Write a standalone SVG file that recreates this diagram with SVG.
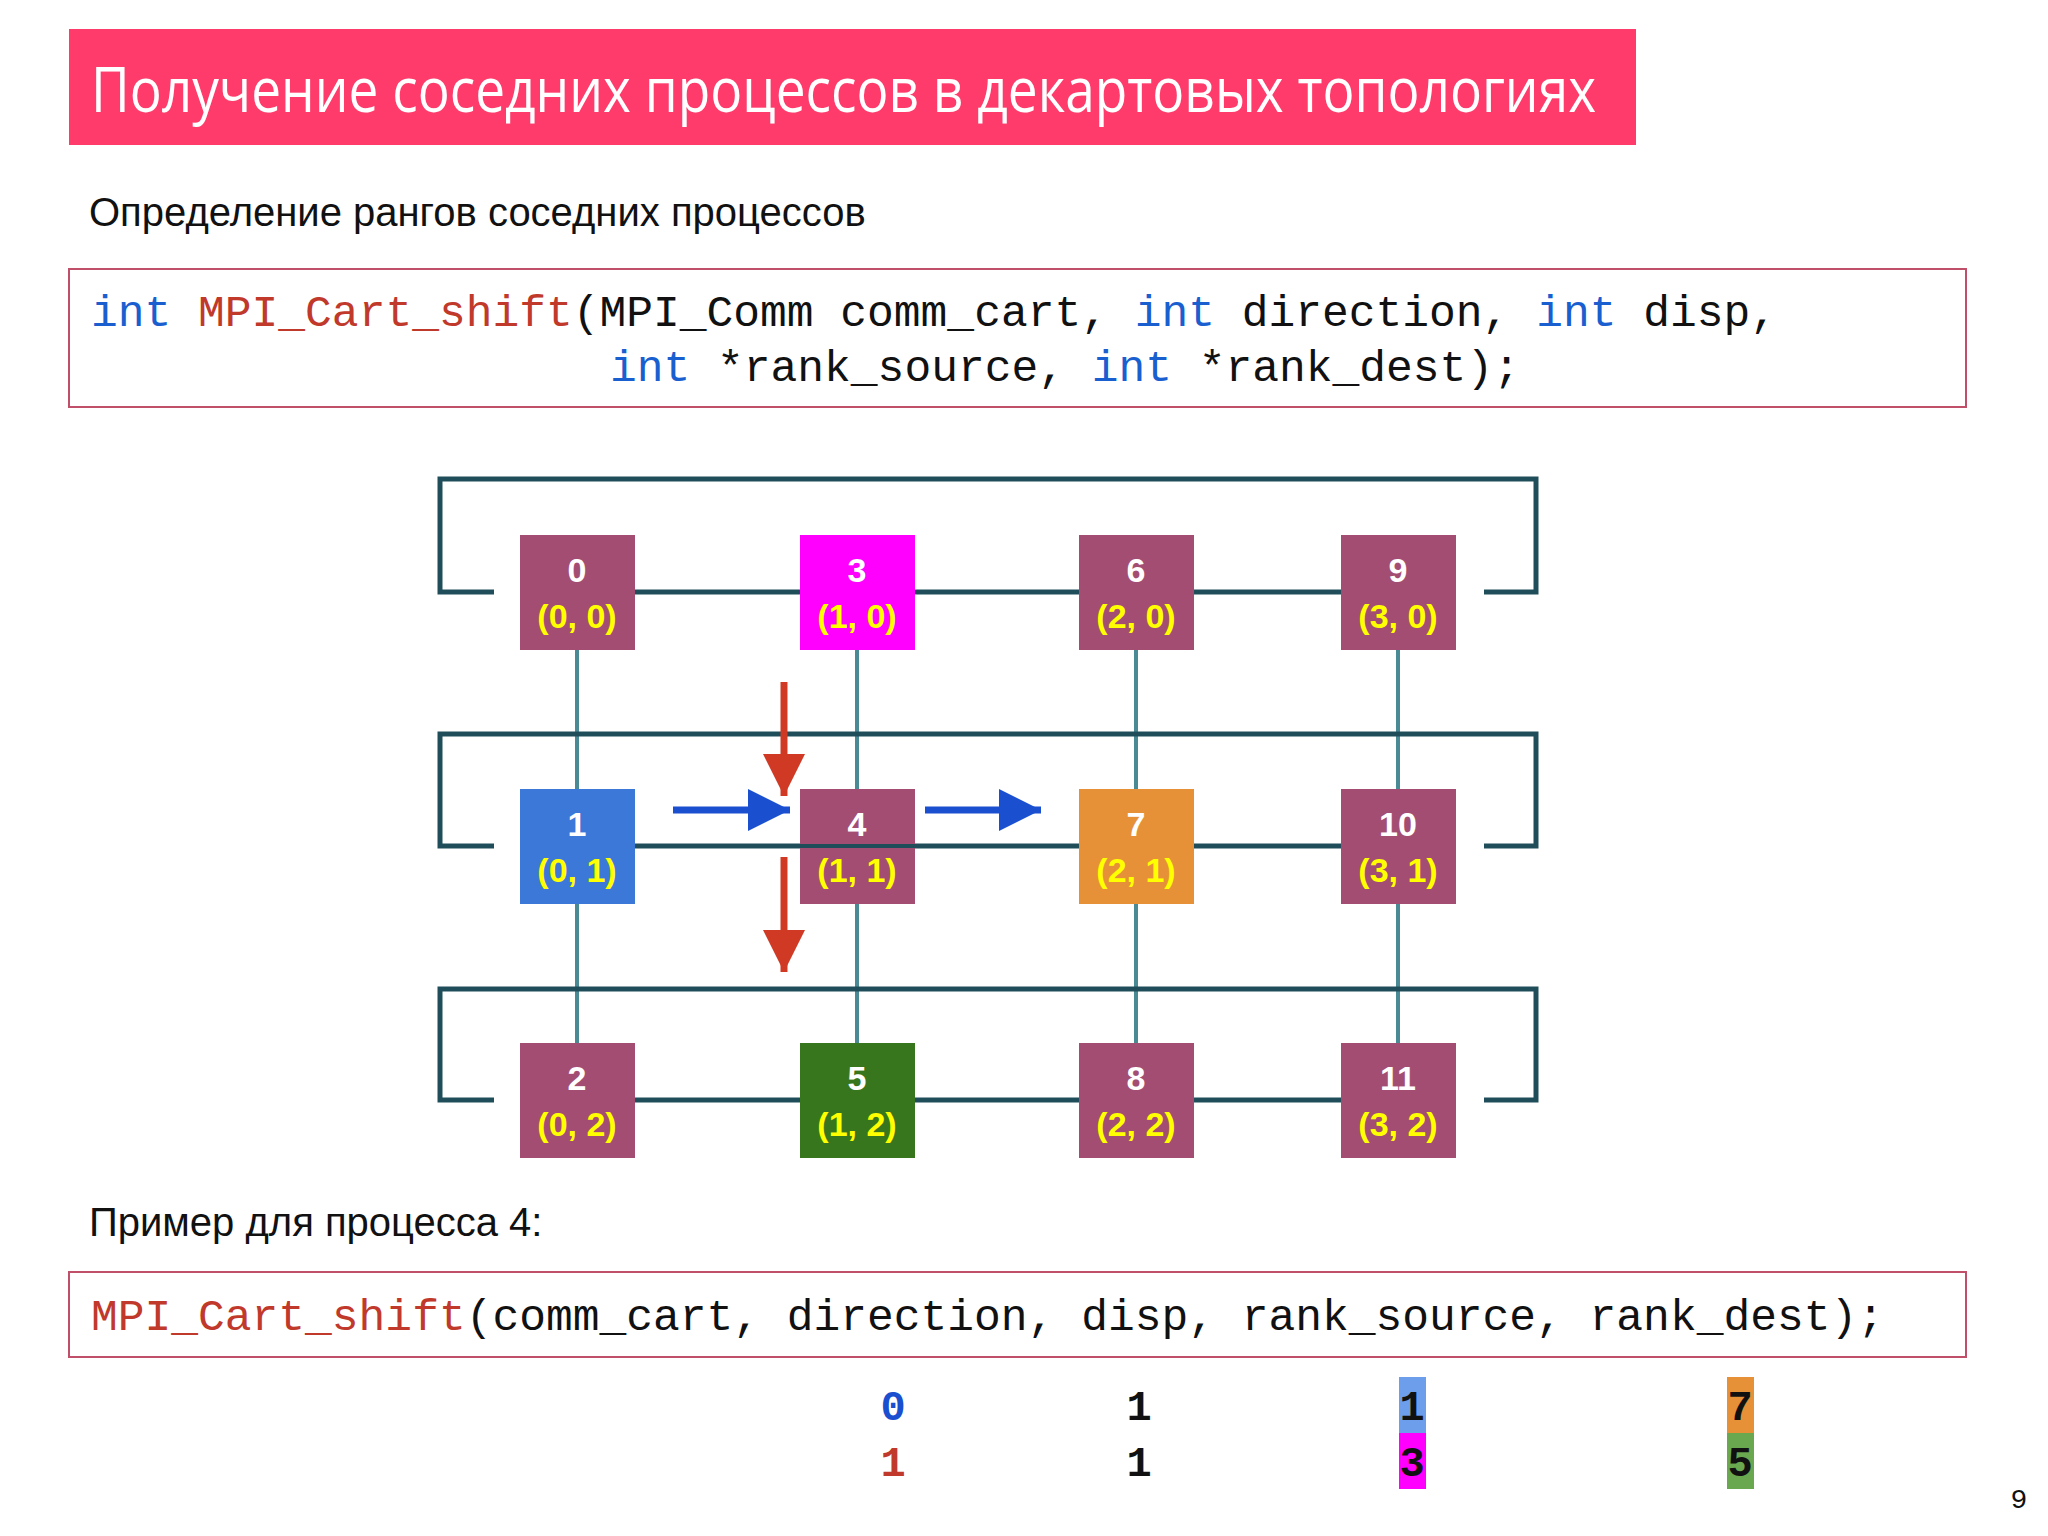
<svg xmlns="http://www.w3.org/2000/svg" width="2048" height="1536" viewBox="0 0 2048 1536">
<style>
.mono{font-family:"Liberation Mono","DejaVu Sans Mono",monospace;font-size:44.6px}
.kw{fill:#1a5fd0}.fn{fill:#c0392b}.tx{fill:#111}
.box{fill:#fff;stroke:#c0506a;stroke-width:2}
.n{fill:#a34d73}
.num{font-family:"Liberation Sans",Arial,sans-serif;font-weight:bold;font-size:34px;fill:#fff;text-anchor:middle}
.crd{font-family:"Liberation Sans",Arial,sans-serif;font-weight:bold;font-size:34px;fill:#ffff00;text-anchor:middle}
.wrap{fill:none;stroke:#1f4e5a;stroke-width:5}
.vl{stroke:#4a8a95;stroke-width:4}
.val{font-family:"Liberation Mono","DejaVu Sans Mono",monospace;font-weight:bold;font-size:42px;text-anchor:middle}
</style>
<defs>
<marker id="ab" viewBox="0 0 10 10" refX="10" refY="5" markerWidth="6" markerHeight="6" markerUnits="strokeWidth" orient="auto"><path d="M0,0L10,5L0,10z" fill="#1a4fd0"/></marker>
<marker id="ar" viewBox="0 0 10 10" refX="10" refY="5" markerWidth="6" markerHeight="6" markerUnits="strokeWidth" orient="auto"><path d="M0,0L10,5L0,10z" fill="#d03a25"/></marker>
</defs>
<rect width="2048" height="1536" fill="#fff"/>
<rect x="69" y="29" width="1567" height="116" fill="#ff3b6b"/>
<text x="91" y="112" font-family="Open Sans,Noto Sans,sans-serif" font-size="62" fill="#fff" textLength="1505" lengthAdjust="spacingAndGlyphs">Получение соседних процессов в декартовых топологиях</text>
<text x="89" y="226" font-family="Liberation Sans,Arial,sans-serif" font-size="40" fill="#111">Определение рангов соседних процессов</text>
<rect class="box" x="69" y="269" width="1897" height="138"/>
<text class="mono" x="91" y="326"><tspan class="kw">int</tspan><tspan class="tx"> </tspan><tspan class="fn">MPI_Cart_shift</tspan><tspan class="tx">(MPI_Comm comm_cart, </tspan><tspan class="kw">int</tspan><tspan class="tx"> direction, </tspan><tspan class="kw">int</tspan><tspan class="tx"> disp,</tspan></text>
<text class="mono" x="610" y="381"><tspan class="kw">int</tspan><tspan class="tx"> *rank_source, </tspan><tspan class="kw">int</tspan><tspan class="tx"> *rank_dest);</tspan></text>
<g id="connectors">
<line class="vl" x1="577" y1="592" x2="577" y2="1100"/>
<line class="vl" x1="857" y1="592" x2="857" y2="1100"/>
<line class="vl" x1="1136" y1="592" x2="1136" y2="1100"/>
<line class="vl" x1="1398" y1="592" x2="1398" y2="1100"/>
<path class="wrap" d="M494,592H440V479H1536V592H1484M577,592H1398"/>
<path class="wrap" d="M494,846H440V734H1536V846H1484M577,846H1398"/>
<path class="wrap" d="M494,1100H440V989H1536V1100H1484M577,1100H1398"/>
<line x1="673" y1="810" x2="790" y2="810" stroke="#1a4fd0" stroke-width="7" marker-end="url(#ab)"/>
<line x1="925" y1="810" x2="1041" y2="810" stroke="#1a4fd0" stroke-width="7" marker-end="url(#ab)"/>
<line x1="784" y1="682" x2="784" y2="796" stroke="#d03a25" stroke-width="7" marker-end="url(#ar)"/>
<line x1="784" y1="857" x2="784" y2="972" stroke="#d03a25" stroke-width="7" marker-end="url(#ar)"/>
</g>
<g id="n0"><rect class="n" x="520" y="535" width="115" height="115"/><text class="num" x="577" y="582">0</text><text class="crd" x="577" y="628">(0, 0)</text></g>
<g id="n3"><rect x="800" y="535" width="115" height="115" fill="#ff00ff"/><text class="num" x="857" y="582">3</text><text class="crd" x="857" y="628">(1, 0)</text></g>
<g id="n6"><rect class="n" x="1079" y="535" width="115" height="115"/><text class="num" x="1136" y="582">6</text><text class="crd" x="1136" y="628">(2, 0)</text></g>
<g id="n9"><rect class="n" x="1341" y="535" width="115" height="115"/><text class="num" x="1398" y="582">9</text><text class="crd" x="1398" y="628">(3, 0)</text></g>
<g id="n1"><rect x="520" y="789" width="115" height="115" fill="#3c78d8"/><text class="num" x="577" y="836">1</text><text class="crd" x="577" y="882">(0, 1)</text></g>
<g id="n4"><rect class="n" x="800" y="789" width="115" height="115"/><line x1="800" y1="846" x2="915" y2="846" stroke="#1f4e5a" stroke-width="4"/><text class="num" x="857" y="836">4</text><text class="crd" x="857" y="882">(1, 1)</text></g>
<g id="n7"><rect x="1079" y="789" width="115" height="115" fill="#e69138"/><text class="num" x="1136" y="836">7</text><text class="crd" x="1136" y="882">(2, 1)</text></g>
<g id="n10"><rect class="n" x="1341" y="789" width="115" height="115"/><text class="num" x="1398" y="836">10</text><text class="crd" x="1398" y="882">(3, 1)</text></g>
<g id="n2"><rect class="n" x="520" y="1043" width="115" height="115"/><text class="num" x="577" y="1090">2</text><text class="crd" x="577" y="1136">(0, 2)</text></g>
<g id="n5"><rect x="800" y="1043" width="115" height="115" fill="#38761d"/><text class="num" x="857" y="1090">5</text><text class="crd" x="857" y="1136">(1, 2)</text></g>
<g id="n8"><rect class="n" x="1079" y="1043" width="115" height="115"/><text class="num" x="1136" y="1090">8</text><text class="crd" x="1136" y="1136">(2, 2)</text></g>
<g id="n11"><rect class="n" x="1341" y="1043" width="115" height="115"/><text class="num" x="1398" y="1090">11</text><text class="crd" x="1398" y="1136">(3, 2)</text></g>
<text x="89" y="1236" font-family="Liberation Sans,Arial,sans-serif" font-size="40" fill="#111">Пример для процесса 4:</text>
<rect class="box" x="69" y="1272" width="1897" height="85"/>
<text class="mono" x="91" y="1330"><tspan class="fn">MPI_Cart_shift</tspan><tspan class="tx">(comm_cart, direction, disp, rank_source, rank_dest);</tspan></text>
<rect x="1399" y="1377" width="27" height="56" fill="#6d9eeb"/>
<rect x="1399" y="1433" width="27" height="56" fill="#ff00ff"/>
<rect x="1727" y="1377" width="27" height="56" fill="#e69138"/>
<rect x="1727" y="1433" width="27" height="56" fill="#6aa84f"/>
<text class="val" x="893" y="1420" fill="#1a4fd0">0</text>
<text class="val" x="893" y="1476" fill="#c0392b">1</text>
<text class="val" x="1139" y="1420" fill="#111">1</text>
<text class="val" x="1139" y="1476" fill="#111">1</text>
<text class="val" x="1412" y="1420" fill="#111">1</text>
<text class="val" x="1412" y="1476" fill="#111">3</text>
<text class="val" x="1740" y="1420" fill="#111">7</text>
<text class="val" x="1740" y="1476" fill="#111">5</text>
<text x="2019" y="1508" font-family="Liberation Mono,monospace" font-size="28" fill="#111" text-anchor="middle">9</text>
</svg>
